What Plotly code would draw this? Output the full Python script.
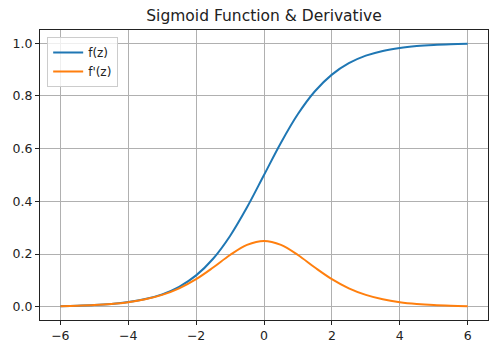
import plotly.graph_objects as go

z = [-6.0, -5.5, -5.0, -4.5, -4.0, -3.5, -3.0, -2.5, -2.0, -1.5, -1.0, -0.5, 0.0,
     0.5, 1.0, 1.5, 2.0, 2.5, 3.0, 3.5, 4.0, 4.5, 5.0, 5.5, 6.0]
f_vals = [0.0025, 0.0041, 0.0067, 0.0110, 0.0180, 0.0293, 0.0474, 0.0759, 0.1192,
          0.1824, 0.2689, 0.3775, 0.5000, 0.6225, 0.7311, 0.8176, 0.8808, 0.9241,
          0.9526, 0.9707, 0.9820, 0.9890, 0.9933, 0.9959, 0.9975]
df_vals = [0.0025, 0.0041, 0.0066, 0.0109, 0.0177, 0.0285, 0.0452, 0.0701, 0.1050,
           0.1491, 0.1966, 0.2350, 0.2500, 0.2350, 0.1966, 0.1491, 0.1050, 0.0701,
           0.0452, 0.0285, 0.0177, 0.0109, 0.0066, 0.0041, 0.0025]
x_ticks = [-6, -4, -2, 0, 2, 4, 6]
y_ticks = [0.0, 0.2, 0.4, 0.6, 0.8, 1.0]
title = "Sigmoid Function & Derivative"

fig = go.Figure()
fig.add_trace(go.Scatter(x=z, y=f_vals, mode="lines", name="f(z)",
                         line=dict(color="#1f77b4", width=2, shape="spline")))
fig.add_trace(go.Scatter(x=z, y=df_vals, mode="lines", name="f'(z)",
                         line=dict(color="#ff7f0e", width=2, shape="spline")))

axis_common = dict(showline=True, mirror=True, linecolor="#222222", linewidth=1,
                   ticks="outside", ticklen=4, tickcolor="#222222",
                   showgrid=True, gridcolor="#b0b0b0", gridwidth=1, zeroline=False,
                   tickfont=dict(family="DejaVu Sans", size=12.5, color="#222222"))

fig.update_layout(
    width=496, height=352,
    margin=dict(l=40, r=8, t=30, b=32),
    paper_bgcolor="white", plot_bgcolor="white",
    title=dict(text=title, x=0.5, xref="paper", xanchor="center",
               y=1 - 16 / 352, yanchor="middle",
               font=dict(family="DejaVu Sans", size=15.5, color="#222222")),
    xaxis=dict(range=[-6.6, 6.6], tickvals=x_ticks, **axis_common),
    yaxis=dict(range=[-0.05, 1.05], tickvals=y_ticks, tickformat=".1f", **axis_common),
    legend=dict(x=0.016, y=0.976, xanchor="left", yanchor="top",
                bgcolor="rgba(255,255,255,0.8)", bordercolor="#cccccc", borderwidth=1,
                font=dict(family="DejaVu Sans", size=12, color="#222222"),
                tracegroupgap=0),
    showlegend=True,
)

fig.write_html("out.html")
